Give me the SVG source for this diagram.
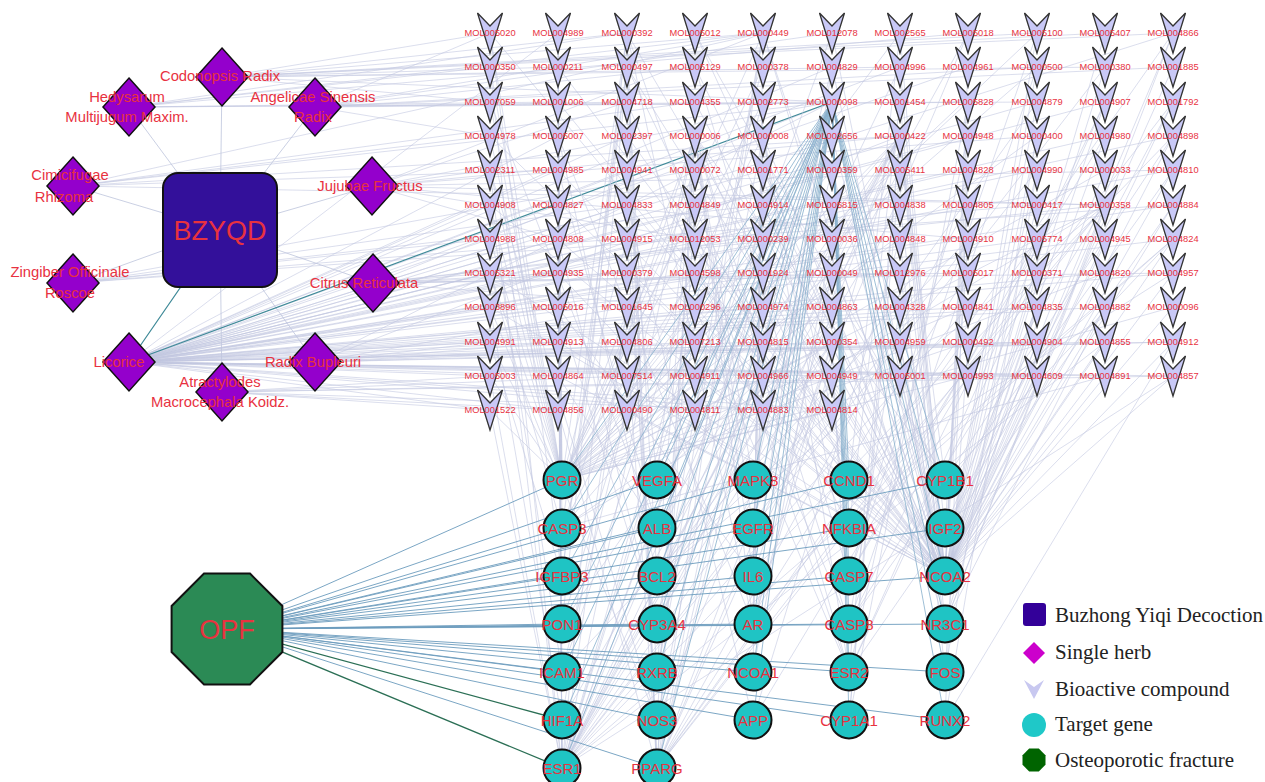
<svg xmlns="http://www.w3.org/2000/svg" xmlns:xlink="http://www.w3.org/1999/xlink" width="1265" height="782" viewBox="0 0 1265 782">
<defs>
<path id="v" d="M-12.5 -20L0 -7L12.5 -20L0 20Z"/>
<path id="d" d="M0 -29L26 0L0 29L-26 0Z"/>
<style>
.e{fill:none;stroke:#c3c8e0;stroke-width:0.7;opacity:0.85}
.eh{fill:none;stroke:#bcc4dc;stroke-width:0.8}
.eb{fill:none;stroke:#86aecb;stroke-width:0.8}
.et{fill:none;stroke:#3f8a98;stroke-width:1.2}
.eo{fill:none;stroke:#6c9cbd;stroke-width:0.9}
.eg{fill:none;stroke:#2b6f55;stroke-width:1.3}
.c use{fill:#c9c9f7;stroke:#333;stroke-width:1.3}
.c text{font-family:"Liberation Sans",Arial,sans-serif;font-size:9.3px;fill:#e8323f;text-anchor:middle}
.h use{fill:#9400cc;stroke:#111;stroke-width:1.5}
.h text{font-family:"Liberation Sans",Arial,sans-serif;font-size:14.8px;fill:#e8323f;text-anchor:middle}
.g circle{fill:#1fc4c4;stroke:#111;stroke-width:2}
.g text{font-family:"Liberation Sans",Arial,sans-serif;font-size:15px;fill:#e8323f;text-anchor:middle}
.big{font-family:"Liberation Sans",Arial,sans-serif;font-size:27px;fill:#e8323f;text-anchor:middle}
.lg{font-family:"Liberation Serif","Times New Roman",serif;font-size:21px;fill:#222}
</style>
</defs>
<rect width="1265" height="782" fill="#ffffff"/>
<g id="connectors">
<path class="eh" d="M220 230L222 77M220 230L129 107M220 230L315 107M220 230L73 186M220 230L372 186M220 230L73 283M220 230L373 283M220 230L315 362M220 230L222 392"/>
<path class="e" d="M222 77L490 33M222 77L627 33M222 77L763 33M222 77L1037 33M222 77L1105 33M222 77L558 67M222 77L900 67M222 77L1105 67M222 77L832 102M222 77L490 102M222 77L1173 33
M129 107L490 67M129 107L627 33M129 107L1037 102M129 107L763 33M129 107L558 102M129 107L832 102M129 107L968 33
M315 107L490 33M315 107L695 67M315 107L763 33M315 107L832 33M315 107L1037 67M315 107L1173 67M315 107L968 102M315 107L627 102M315 107L490 136
M73 186L490 136M73 186L558 170M73 186L832 102M73 186L900 136M73 186L695 102M73 186L1105 205M73 186L763 33
M372 186L490 170M372 186L627 102M372 186L832 102M372 186L900 136M372 186L1037 136M372 186L763 33M372 186L1105 205M372 186L1173 170M372 186L558 239M372 186L695 239M372 186L968 239
M73 283L490 239M73 283L627 205M73 283L763 205M73 283L1037 205M73 283L1173 205M73 283L695 170
M373 283L490 273M373 283L558 273M373 283L627 273M373 283L695 307M373 283L832 102M373 283L1105 205M373 283L968 273M373 283L1173 273M373 283L763 239M373 283L900 273
M315 362L490 342M315 362L558 342M315 362L832 342M315 362L627 307M315 362L900 136M315 362L1037 342M315 362L1173 342M315 362L832 102M315 362L695 342
M222 392L490 376M222 392L627 376M222 392L763 410M222 392L558 410M222 392L1037 376M222 392L1173 376M222 392L490 410
M129 362L490 205M129 362L490 239M129 362L490 273M129 362L490 307M129 362L490 342M129 362L490 376M129 362L558 33M129 362L558 136M129 362L558 170M129 362L558 205M129 362L558 239M129 362L558 273M129 362L558 307M129 362L558 342M129 362L558 376M129 362L558 410M129 362L627 136M129 362L627 170M129 362L627 205M129 362L627 239M129 362L627 342M129 362L695 273M129 362L695 376M129 362L695 410M129 362L763 205M129 362L763 307M129 362L763 342M129 362L763 376M129 362L763 410M129 362L832 67M129 362L832 307M129 362L832 376M129 362L832 410M129 362L900 67M129 362L900 205M129 362L900 239M129 362L900 342M129 362L968 67M129 362L968 136M129 362L968 170M129 362L968 205M129 362L968 239M129 362L968 307M129 362L968 376M129 362L1037 102M129 362L1037 170M129 362L1037 307M129 362L1037 342M129 362L1037 376M129 362L1105 102M129 362L1105 136M129 362L1105 239M129 362L1105 273M129 362L1105 307M129 362L1105 342M129 362L1105 376M129 362L1173 33M129 362L1173 136M129 362L1173 170M129 362L1173 205M129 362L1173 239M129 362L1173 273M129 362L1173 342M129 362L1173 376M129 362L490 410M129 362L763 170M129 362L900 307M129 362L1037 239"/>
<path class="et" d="M220 230L129 362M129 362L832 102"/>
<path class="e" d="M490 33L945 576M627 33L945 576M695 33L945 576M763 33L945 576M832 33L945 576M900 33L945 576M1037 33L945 576M1105 33L945 576M1173 33L945 576M558 67L945 576M627 67L945 576M695 67L945 576M832 67L945 576M900 67L945 576M968 67L945 576M1037 67L945 576M1105 67L945 576M1173 67L945 576M558 102L945 576M695 102L945 576M900 102L945 576M968 102L945 576M1037 102L945 576M1105 102L945 576M1173 102L945 576M490 136L945 576M627 136L945 576M695 136L945 576M763 136L945 576M832 136L945 576M900 136L945 576M968 136L945 576M1037 136L945 576M1105 136L945 576M1173 136L945 576M558 170L945 576M763 170L945 576M832 170L945 576M968 170L945 576M1037 170L945 576M1105 170L945 576M1173 170L945 576M490 205L945 576M627 205L945 576M763 205L945 576M900 205L945 576M1037 205L945 576M1105 205L945 576M1173 205L945 576M558 239L945 576M695 239L945 576M832 239L945 576M968 239L945 576M1037 239L945 576M1105 239L945 576M1173 239L945 576M490 273L945 576M627 273L945 576M763 273L945 576M900 273L945 576M1037 273L945 576M1105 273L945 576M1173 273L945 576M490 307L945 576M695 307L945 576M832 307L945 576M900 307L945 576M1037 307L945 576M1105 307L945 576M1173 307L945 576M558 342L945 576M763 342L945 576M900 342L945 576M1037 342L945 576M1105 342L945 576M1173 342L945 576M558 376L945 576M695 376L945 576M900 376L945 576M1037 376L945 576M1105 376L945 576M1173 376L945 576M627 410L945 576M763 410L945 576
M490 33L562 480M558 33L562 480M627 33L562 480M763 33L562 480M900 33L562 480M1037 33L562 480M490 67L562 480M558 67L562 480M763 67L562 480M1037 67L562 480M490 102L562 480M763 102L562 480M968 102L562 480M490 136L562 480M695 136L562 480M832 136L562 480M900 136L562 480M1037 136L562 480M490 170L562 480M695 170L562 480M832 170L562 480M1105 170L562 480M490 205L562 480M695 205L562 480M832 205L562 480M1105 205L562 480M490 239L562 480M627 239L562 480M763 239L562 480M900 239L562 480M490 273L562 480M695 273L562 480M832 273L562 480M1105 273L562 480M558 307L562 480M832 307L562 480M968 307L562 480M1173 307L562 480M490 342L562 480M832 342L562 480M968 342L562 480M490 376L562 480M627 376L562 480M968 376L562 480M490 410L562 480M832 410L562 480
M558 33L562 768M832 33L562 768M968 33L562 768M490 67L562 768M627 67L562 768M763 67L562 768M900 67L562 768M1105 67L562 768M558 102L562 768M763 102L562 768M1037 102L562 768M558 136L562 768M695 136L562 768M832 136L562 768M900 136L562 768M1173 136L562 768M490 170L562 768M900 170L562 768M1037 170L562 768M558 205L562 768M900 205L562 768M558 239L562 768M832 239L562 768M1173 239L562 768M558 273L562 768M763 273L562 768M627 307L562 768M968 307L562 768M695 342L562 768M832 342L562 768M1105 342L562 768M490 376L562 768M763 376L562 768M1173 376L562 768M490 410L562 768M695 410L562 768
M627 33L657 768M763 33L657 768M968 33L657 768M1173 33L657 768M627 67L657 768M832 67L657 768M627 102L657 768M1173 102L657 768M695 136L657 768M900 136L657 768M627 170L657 768M695 205L657 768M968 205L657 768M1105 205L657 768M763 239L657 768M1037 239L657 768M968 273L657 768M763 307L657 768M627 342L657 768M832 376L657 768M558 410L657 768
M627 33L753 624M763 33L753 624M695 136L753 624M900 136L753 624M832 273L753 624M832 342L753 624M558 136L753 624M1105 205L753 624
M695 136L562 528M695 136L657 576M695 136L753 576M695 136L657 480M695 136L753 480M695 136L753 528M695 136L849 480M695 136L849 624M695 136L849 672M695 136L657 720M695 136L945 480M695 136L562 672
M900 136L562 528M900 136L657 576M900 136L657 624M900 136L849 720M900 136L945 480M900 136L945 624M900 136L849 672M900 136L562 720M900 136L657 720M900 136L657 528M900 136L945 528M900 136L562 624
M763 136L562 528M763 136L753 576M763 136L849 480M763 136L753 672M763 136L849 672M763 136L849 576M763 136L657 672
M1105 205L562 528M1105 205L657 576M1105 205L849 624M1105 205L945 624
M832 342L562 528M832 342L657 576M832 342L753 576M832 342L849 672
M627 67L562 528M627 67L657 576M627 67L849 528M627 67L562 576
M627 33L562 576M627 33L849 672M627 33L562 624
M763 33L945 624M763 33L657 672M763 33L657 624
M558 170L657 528M558 170L562 672M900 239L753 720M900 239L945 672M968 170L849 576M968 170L945 720M1037 307L945 528M1037 307L945 624M1173 239L945 480M1173 239L849 528M490 307L562 720M490 307L657 720M695 273L849 480M695 273L562 672M763 376L753 528M763 376L657 480M558 307L657 624M558 307L753 576M1105 102L849 672M1105 102L849 624
M490 33L562 576M558 67L562 528M695 33L945 480M900 33L849 480M1037 33L849 576M1173 33L945 624M490 102L657 528M627 102L849 624M763 102L753 576M968 102L849 720M1173 102L945 528M558 136L657 576M968 136L849 672M1037 136L945 672M1173 136L945 480M627 170L657 480M832 170L753 480M1037 170L945 720M1173 170L849 624M490 205L562 672M763 205L657 720M968 205L945 528M627 239L657 672M832 239L753 672M1037 239L849 576M490 273L562 528M763 273L657 576M1037 273L849 672M1173 273L849 480M627 307L562 720M900 307L849 624M1105 307L945 624M490 342L562 576M763 342L753 624M968 342L945 672M1173 342L945 720M558 376L657 528M832 376L849 576M1037 376L945 528M627 410L562 624M763 410L753 528M832 410L657 576M695 67L849 576M900 102L849 528M1105 136L753 720M558 239L657 624M900 170L849 720M968 239L562 672M695 307L849 672M1105 376L562 528M490 170L657 720M832 67L753 576M1037 67L849 624M763 170L945 480M900 342L945 624M558 273L753 480M695 170L657 672M968 376L849 576M1173 205L849 672M627 205L753 720"/>
<path class="eb" d="M832 102L562 480M832 102L562 528M832 102L562 576M832 102L562 624M832 102L562 672M832 102L562 720M832 102L562 768M832 102L657 480M832 102L657 528M832 102L657 576M832 102L657 624M832 102L657 672M832 102L657 720M832 102L657 768M832 102L753 480M832 102L753 528M832 102L753 576M832 102L753 624M832 102L753 672M832 102L753 720M832 102L849 480M832 102L849 528M832 102L849 576M832 102L849 624M832 102L849 672M832 102L849 720M832 102L945 480M832 102L945 528M832 102L945 576M832 102L945 624M832 102L945 672M832 102L945 720"/>
<path class="eo" d="M227 629L562 480M227 629L562 528M227 629L562 576M227 629L562 624M227 629L562 672M227 629L657 480M227 629L657 528M227 629L657 576M227 629L657 624M227 629L657 672M227 629L657 720M227 629L657 768M227 629L753 480M227 629L753 528M227 629L753 576M227 629L753 624M227 629L753 672M227 629L753 720M227 629L849 480M227 629L849 528M227 629L849 576M227 629L849 624M227 629L849 672M227 629L849 720M227 629L945 480M227 629L945 528M227 629L945 576M227 629L945 624M227 629L945 672M227 629L945 720"/>
<path class="eg" d="M227 629L562 720M227 629L562 768"/>
</g>
<g id="compounds">
<g id="MOL005020" class="c"><use href="#v" x="490" y="33"/><text x="490" y="36">MOL005020</text></g>
<g id="MOL004989" class="c"><use href="#v" x="558" y="33"/><text x="558" y="36">MOL004989</text></g>
<g id="MOL000392" class="c"><use href="#v" x="627" y="33"/><text x="627" y="36">MOL000392</text></g>
<g id="MOL005012" class="c"><use href="#v" x="695" y="33"/><text x="695" y="36">MOL005012</text></g>
<g id="MOL000449" class="c"><use href="#v" x="763" y="33"/><text x="763" y="36">MOL000449</text></g>
<g id="MOL012078" class="c"><use href="#v" x="832" y="33"/><text x="832" y="36">MOL012078</text></g>
<g id="MOL002565" class="c"><use href="#v" x="900" y="33"/><text x="900" y="36">MOL002565</text></g>
<g id="MOL005018" class="c"><use href="#v" x="968" y="33"/><text x="968" y="36">MOL005018</text></g>
<g id="MOL005100" class="c"><use href="#v" x="1037" y="33"/><text x="1037" y="36">MOL005100</text></g>
<g id="MOL005407" class="c"><use href="#v" x="1105" y="33"/><text x="1105" y="36">MOL005407</text></g>
<g id="MOL004866" class="c"><use href="#v" x="1173" y="33"/><text x="1173" y="36">MOL004866</text></g>
<g id="MOL000350" class="c"><use href="#v" x="490" y="67"/><text x="490" y="70">MOL000350</text></g>
<g id="MOL000211" class="c"><use href="#v" x="558" y="67"/><text x="558" y="70">MOL000211</text></g>
<g id="MOL000497" class="c"><use href="#v" x="627" y="67"/><text x="627" y="70">MOL000497</text></g>
<g id="MOL005129" class="c"><use href="#v" x="695" y="67"/><text x="695" y="70">MOL005129</text></g>
<g id="MOL000378" class="c"><use href="#v" x="763" y="67"/><text x="763" y="70">MOL000378</text></g>
<g id="MOL004829" class="c"><use href="#v" x="832" y="67"/><text x="832" y="70">MOL004829</text></g>
<g id="MOL004996" class="c"><use href="#v" x="900" y="67"/><text x="900" y="70">MOL004996</text></g>
<g id="MOL004961" class="c"><use href="#v" x="968" y="67"/><text x="968" y="70">MOL004961</text></g>
<g id="MOL000500" class="c"><use href="#v" x="1037" y="67"/><text x="1037" y="70">MOL000500</text></g>
<g id="MOL000380" class="c"><use href="#v" x="1105" y="67"/><text x="1105" y="70">MOL000380</text></g>
<g id="MOL001885" class="c"><use href="#v" x="1173" y="67"/><text x="1173" y="70">MOL001885</text></g>
<g id="MOL007059" class="c"><use href="#v" x="490" y="102"/><text x="490" y="105">MOL007059</text></g>
<g id="MOL001006" class="c"><use href="#v" x="558" y="102"/><text x="558" y="105">MOL001006</text></g>
<g id="MOL004718" class="c"><use href="#v" x="627" y="102"/><text x="627" y="105">MOL004718</text></g>
<g id="MOL004355" class="c"><use href="#v" x="695" y="102"/><text x="695" y="105">MOL004355</text></g>
<g id="MOL002773" class="c"><use href="#v" x="763" y="102"/><text x="763" y="105">MOL002773</text></g>
<g id="MOL000098" class="c"><use href="#v" x="832" y="102"/><text x="832" y="105">MOL000098</text></g>
<g id="MOL001454" class="c"><use href="#v" x="900" y="102"/><text x="900" y="105">MOL001454</text></g>
<g id="MOL005828" class="c"><use href="#v" x="968" y="102"/><text x="968" y="105">MOL005828</text></g>
<g id="MOL004879" class="c"><use href="#v" x="1037" y="102"/><text x="1037" y="105">MOL004879</text></g>
<g id="MOL004907" class="c"><use href="#v" x="1105" y="102"/><text x="1105" y="105">MOL004907</text></g>
<g id="MOL001792" class="c"><use href="#v" x="1173" y="102"/><text x="1173" y="105">MOL001792</text></g>
<g id="MOL004978" class="c"><use href="#v" x="490" y="136"/><text x="490" y="139">MOL004978</text></g>
<g id="MOL005007" class="c"><use href="#v" x="558" y="136"/><text x="558" y="139">MOL005007</text></g>
<g id="MOL002397" class="c"><use href="#v" x="627" y="136"/><text x="627" y="139">MOL002397</text></g>
<g id="MOL000006" class="c"><use href="#v" x="695" y="136"/><text x="695" y="139">MOL000006</text></g>
<g id="MOL000008" class="c"><use href="#v" x="763" y="136"/><text x="763" y="139">MOL000008</text></g>
<g id="MOL002656" class="c"><use href="#v" x="832" y="136"/><text x="832" y="139">MOL002656</text></g>
<g id="MOL000422" class="c"><use href="#v" x="900" y="136"/><text x="900" y="139">MOL000422</text></g>
<g id="MOL004948" class="c"><use href="#v" x="968" y="136"/><text x="968" y="139">MOL004948</text></g>
<g id="MOL000400" class="c"><use href="#v" x="1037" y="136"/><text x="1037" y="139">MOL000400</text></g>
<g id="MOL004980" class="c"><use href="#v" x="1105" y="136"/><text x="1105" y="139">MOL004980</text></g>
<g id="MOL004898" class="c"><use href="#v" x="1173" y="136"/><text x="1173" y="139">MOL004898</text></g>
<g id="MOL002311" class="c"><use href="#v" x="490" y="170"/><text x="490" y="173">MOL002311</text></g>
<g id="MOL004985" class="c"><use href="#v" x="558" y="170"/><text x="558" y="173">MOL004985</text></g>
<g id="MOL004941" class="c"><use href="#v" x="627" y="170"/><text x="627" y="173">MOL004941</text></g>
<g id="MOL000072" class="c"><use href="#v" x="695" y="170"/><text x="695" y="173">MOL000072</text></g>
<g id="MOL001771" class="c"><use href="#v" x="763" y="170"/><text x="763" y="173">MOL001771</text></g>
<g id="MOL000359" class="c"><use href="#v" x="832" y="170"/><text x="832" y="173">MOL000359</text></g>
<g id="MOL005411" class="c"><use href="#v" x="900" y="170"/><text x="900" y="173">MOL005411</text></g>
<g id="MOL004828" class="c"><use href="#v" x="968" y="170"/><text x="968" y="173">MOL004828</text></g>
<g id="MOL004990" class="c"><use href="#v" x="1037" y="170"/><text x="1037" y="173">MOL004990</text></g>
<g id="MOL000033" class="c"><use href="#v" x="1105" y="170"/><text x="1105" y="173">MOL000033</text></g>
<g id="MOL004810" class="c"><use href="#v" x="1173" y="170"/><text x="1173" y="173">MOL004810</text></g>
<g id="MOL004908" class="c"><use href="#v" x="490" y="205"/><text x="490" y="208">MOL004908</text></g>
<g id="MOL004827" class="c"><use href="#v" x="558" y="205"/><text x="558" y="208">MOL004827</text></g>
<g id="MOL004833" class="c"><use href="#v" x="627" y="205"/><text x="627" y="208">MOL004833</text></g>
<g id="MOL004849" class="c"><use href="#v" x="695" y="205"/><text x="695" y="208">MOL004849</text></g>
<g id="MOL004914" class="c"><use href="#v" x="763" y="205"/><text x="763" y="208">MOL004914</text></g>
<g id="MOL005815" class="c"><use href="#v" x="832" y="205"/><text x="832" y="208">MOL005815</text></g>
<g id="MOL004838" class="c"><use href="#v" x="900" y="205"/><text x="900" y="208">MOL004838</text></g>
<g id="MOL004805" class="c"><use href="#v" x="968" y="205"/><text x="968" y="208">MOL004805</text></g>
<g id="MOL000417" class="c"><use href="#v" x="1037" y="205"/><text x="1037" y="208">MOL000417</text></g>
<g id="MOL000358" class="c"><use href="#v" x="1105" y="205"/><text x="1105" y="208">MOL000358</text></g>
<g id="MOL004884" class="c"><use href="#v" x="1173" y="205"/><text x="1173" y="208">MOL004884</text></g>
<g id="MOL004988" class="c"><use href="#v" x="490" y="239"/><text x="490" y="242">MOL004988</text></g>
<g id="MOL004808" class="c"><use href="#v" x="558" y="239"/><text x="558" y="242">MOL004808</text></g>
<g id="MOL004915" class="c"><use href="#v" x="627" y="239"/><text x="627" y="242">MOL004915</text></g>
<g id="MOL012053" class="c"><use href="#v" x="695" y="239"/><text x="695" y="242">MOL012053</text></g>
<g id="MOL000239" class="c"><use href="#v" x="763" y="239"/><text x="763" y="242">MOL000239</text></g>
<g id="MOL000036" class="c"><use href="#v" x="832" y="239"/><text x="832" y="242">MOL000036</text></g>
<g id="MOL004848" class="c"><use href="#v" x="900" y="239"/><text x="900" y="242">MOL004848</text></g>
<g id="MOL004910" class="c"><use href="#v" x="968" y="239"/><text x="968" y="242">MOL004910</text></g>
<g id="MOL005774" class="c"><use href="#v" x="1037" y="239"/><text x="1037" y="242">MOL005774</text></g>
<g id="MOL004945" class="c"><use href="#v" x="1105" y="239"/><text x="1105" y="242">MOL004945</text></g>
<g id="MOL004824" class="c"><use href="#v" x="1173" y="239"/><text x="1173" y="242">MOL004824</text></g>
<g id="MOL005321" class="c"><use href="#v" x="490" y="273"/><text x="490" y="276">MOL005321</text></g>
<g id="MOL004935" class="c"><use href="#v" x="558" y="273"/><text x="558" y="276">MOL004935</text></g>
<g id="MOL000379" class="c"><use href="#v" x="627" y="273"/><text x="627" y="276">MOL000379</text></g>
<g id="MOL004598" class="c"><use href="#v" x="695" y="273"/><text x="695" y="276">MOL004598</text></g>
<g id="MOL001924" class="c"><use href="#v" x="763" y="273"/><text x="763" y="276">MOL001924</text></g>
<g id="MOL000049" class="c"><use href="#v" x="832" y="273"/><text x="832" y="276">MOL000049</text></g>
<g id="MOL012976" class="c"><use href="#v" x="900" y="273"/><text x="900" y="276">MOL012976</text></g>
<g id="MOL005017" class="c"><use href="#v" x="968" y="273"/><text x="968" y="276">MOL005017</text></g>
<g id="MOL000371" class="c"><use href="#v" x="1037" y="273"/><text x="1037" y="276">MOL000371</text></g>
<g id="MOL004820" class="c"><use href="#v" x="1105" y="273"/><text x="1105" y="276">MOL004820</text></g>
<g id="MOL004957" class="c"><use href="#v" x="1173" y="273"/><text x="1173" y="276">MOL004957</text></g>
<g id="MOL003896" class="c"><use href="#v" x="490" y="307"/><text x="490" y="310">MOL003896</text></g>
<g id="MOL005016" class="c"><use href="#v" x="558" y="307"/><text x="558" y="310">MOL005016</text></g>
<g id="MOL001645" class="c"><use href="#v" x="627" y="307"/><text x="627" y="310">MOL001645</text></g>
<g id="MOL000296" class="c"><use href="#v" x="695" y="307"/><text x="695" y="310">MOL000296</text></g>
<g id="MOL004974" class="c"><use href="#v" x="763" y="307"/><text x="763" y="310">MOL004974</text></g>
<g id="MOL004863" class="c"><use href="#v" x="832" y="307"/><text x="832" y="310">MOL004863</text></g>
<g id="MOL004328" class="c"><use href="#v" x="900" y="307"/><text x="900" y="310">MOL004328</text></g>
<g id="MOL004841" class="c"><use href="#v" x="968" y="307"/><text x="968" y="310">MOL004841</text></g>
<g id="MOL004835" class="c"><use href="#v" x="1037" y="307"/><text x="1037" y="310">MOL004835</text></g>
<g id="MOL004882" class="c"><use href="#v" x="1105" y="307"/><text x="1105" y="310">MOL004882</text></g>
<g id="MOL000096" class="c"><use href="#v" x="1173" y="307"/><text x="1173" y="310">MOL000096</text></g>
<g id="MOL004991" class="c"><use href="#v" x="490" y="342"/><text x="490" y="345">MOL004991</text></g>
<g id="MOL004913" class="c"><use href="#v" x="558" y="342"/><text x="558" y="345">MOL004913</text></g>
<g id="MOL004806" class="c"><use href="#v" x="627" y="342"/><text x="627" y="345">MOL004806</text></g>
<g id="MOL007213" class="c"><use href="#v" x="695" y="342"/><text x="695" y="345">MOL007213</text></g>
<g id="MOL004815" class="c"><use href="#v" x="763" y="342"/><text x="763" y="345">MOL004815</text></g>
<g id="MOL000354" class="c"><use href="#v" x="832" y="342"/><text x="832" y="345">MOL000354</text></g>
<g id="MOL004959" class="c"><use href="#v" x="900" y="342"/><text x="900" y="345">MOL004959</text></g>
<g id="MOL000492" class="c"><use href="#v" x="968" y="342"/><text x="968" y="345">MOL000492</text></g>
<g id="MOL004904" class="c"><use href="#v" x="1037" y="342"/><text x="1037" y="345">MOL004904</text></g>
<g id="MOL004855" class="c"><use href="#v" x="1105" y="342"/><text x="1105" y="345">MOL004855</text></g>
<g id="MOL004912" class="c"><use href="#v" x="1173" y="342"/><text x="1173" y="345">MOL004912</text></g>
<g id="MOL005003" class="c"><use href="#v" x="490" y="376"/><text x="490" y="379">MOL005003</text></g>
<g id="MOL004864" class="c"><use href="#v" x="558" y="376"/><text x="558" y="379">MOL004864</text></g>
<g id="MOL007514" class="c"><use href="#v" x="627" y="376"/><text x="627" y="379">MOL007514</text></g>
<g id="MOL004911" class="c"><use href="#v" x="695" y="376"/><text x="695" y="379">MOL004911</text></g>
<g id="MOL004966" class="c"><use href="#v" x="763" y="376"/><text x="763" y="379">MOL004966</text></g>
<g id="MOL004949" class="c"><use href="#v" x="832" y="376"/><text x="832" y="379">MOL004949</text></g>
<g id="MOL005001" class="c"><use href="#v" x="900" y="376"/><text x="900" y="379">MOL005001</text></g>
<g id="MOL004993" class="c"><use href="#v" x="968" y="376"/><text x="968" y="379">MOL004993</text></g>
<g id="MOL004609" class="c"><use href="#v" x="1037" y="376"/><text x="1037" y="379">MOL004609</text></g>
<g id="MOL004891" class="c"><use href="#v" x="1105" y="376"/><text x="1105" y="379">MOL004891</text></g>
<g id="MOL004857" class="c"><use href="#v" x="1173" y="376"/><text x="1173" y="379">MOL004857</text></g>
<g id="MOL001522" class="c"><use href="#v" x="490" y="410"/><text x="490" y="413">MOL001522</text></g>
<g id="MOL004856" class="c"><use href="#v" x="558" y="410"/><text x="558" y="413">MOL004856</text></g>
<g id="MOL000490" class="c"><use href="#v" x="627" y="410"/><text x="627" y="413">MOL000490</text></g>
<g id="MOL004811" class="c"><use href="#v" x="695" y="410"/><text x="695" y="413">MOL004811</text></g>
<g id="MOL004883" class="c"><use href="#v" x="763" y="410"/><text x="763" y="413">MOL004883</text></g>
<g id="MOL004814" class="c"><use href="#v" x="832" y="410"/><text x="832" y="413">MOL004814</text></g>
</g>
<g id="herbs">
<g id="codonopsis" class="h"><use href="#d" x="222" y="77"/><text x="220" y="81">Codonopsis Radix</text></g>
<g id="hedysarum" class="h"><use href="#d" x="129" y="107"/><text x="127" y="102">Hedysarum</text><text x="127" y="122">Multijugum Maxim.</text></g>
<g id="angelicae" class="h"><use href="#d" x="315" y="107"/><text x="313" y="102">Angelicae Sinensis</text><text x="313" y="122">Radix</text></g>
<g id="cimicifugae" class="h"><use href="#d" x="73" y="186"/><text x="70" y="180">Cimicifugae</text><text x="64" y="202">Rhizoma</text></g>
<g id="jujubae" class="h"><use href="#d" x="372" y="186"/><text x="370" y="191">Jujubae Fructus</text></g>
<g id="zingiber" class="h"><use href="#d" x="73" y="283"/><text x="70" y="277">Zingiber Officinale</text><text x="70" y="298">Roscoe</text></g>
<g id="citrus" class="h"><use href="#d" x="373" y="283"/><text x="364" y="288">Citrus Reticulata</text></g>
<g id="licorice" class="h"><use href="#d" x="129" y="362"/><text x="119" y="367">Licorice</text></g>
<g id="bupleuri" class="h"><use href="#d" x="315" y="362"/><text x="313" y="367">Radix Bupleuri</text></g>
<g id="atractylodes" class="h"><use href="#d" x="222" y="392"/><text x="220" y="387">Atractylodes</text><text x="220" y="407">Macrocephala Koidz.</text></g>
</g>
<g id="BZYQD"><rect x="163" y="173" width="114" height="114" rx="15" fill="#33109a" stroke="#111" stroke-width="2"/><text class="big" x="220" y="240">BZYQD</text></g>
<g id="genes">
<g id="PGR" class="g"><circle cx="562" cy="480" r="18.5"/><text x="562" y="485.5">PGR</text></g>
<g id="CASP3" class="g"><circle cx="562" cy="528" r="18.5"/><text x="562" y="533.5">CASP3</text></g>
<g id="IGFBP3" class="g"><circle cx="562" cy="576" r="18.5"/><text x="562" y="581.5">IGFBP3</text></g>
<g id="PON1" class="g"><circle cx="562" cy="624" r="18.5"/><text x="562" y="629.5">PON1</text></g>
<g id="ICAM1" class="g"><circle cx="562" cy="672" r="18.5"/><text x="562" y="677.5">ICAM1</text></g>
<g id="HIF1A" class="g"><circle cx="562" cy="720" r="18.5"/><text x="562" y="725.5">HIF1A</text></g>
<g id="ESR1" class="g"><circle cx="562" cy="768" r="18.5"/><text x="562" y="773.5">ESR1</text></g>
<g id="VEGFA" class="g"><circle cx="657" cy="480" r="18.5"/><text x="657" y="485.5">VEGFA</text></g>
<g id="ALB" class="g"><circle cx="657" cy="528" r="18.5"/><text x="657" y="533.5">ALB</text></g>
<g id="BCL2" class="g"><circle cx="657" cy="576" r="18.5"/><text x="657" y="581.5">BCL2</text></g>
<g id="CYP3A4" class="g"><circle cx="657" cy="624" r="18.5"/><text x="657" y="629.5">CYP3A4</text></g>
<g id="RXRB" class="g"><circle cx="657" cy="672" r="18.5"/><text x="657" y="677.5">RXRB</text></g>
<g id="NOS3" class="g"><circle cx="657" cy="720" r="18.5"/><text x="657" y="725.5">NOS3</text></g>
<g id="PPARG" class="g"><circle cx="657" cy="768" r="18.5"/><text x="657" y="773.5">PPARG</text></g>
<g id="MAPK8" class="g"><circle cx="753" cy="480" r="18.5"/><text x="753" y="485.5">MAPK8</text></g>
<g id="EGFR" class="g"><circle cx="753" cy="528" r="18.5"/><text x="753" y="533.5">EGFR</text></g>
<g id="IL6" class="g"><circle cx="753" cy="576" r="18.5"/><text x="753" y="581.5">IL6</text></g>
<g id="AR" class="g"><circle cx="753" cy="624" r="18.5"/><text x="753" y="629.5">AR</text></g>
<g id="NCOA1" class="g"><circle cx="753" cy="672" r="18.5"/><text x="753" y="677.5">NCOA1</text></g>
<g id="APP" class="g"><circle cx="753" cy="720" r="18.5"/><text x="753" y="725.5">APP</text></g>
<g id="CCND1" class="g"><circle cx="849" cy="480" r="18.5"/><text x="849" y="485.5">CCND1</text></g>
<g id="NFKBIA" class="g"><circle cx="849" cy="528" r="18.5"/><text x="849" y="533.5">NFKBIA</text></g>
<g id="CASP7" class="g"><circle cx="849" cy="576" r="18.5"/><text x="849" y="581.5">CASP7</text></g>
<g id="CASP8" class="g"><circle cx="849" cy="624" r="18.5"/><text x="849" y="629.5">CASP8</text></g>
<g id="ESR2" class="g"><circle cx="849" cy="672" r="18.5"/><text x="849" y="677.5">ESR2</text></g>
<g id="CYP1A1" class="g"><circle cx="849" cy="720" r="18.5"/><text x="849" y="725.5">CYP1A1</text></g>
<g id="CYP1B1" class="g"><circle cx="945" cy="480" r="18.5"/><text x="945" y="485.5">CYP1B1</text></g>
<g id="IGF2" class="g"><circle cx="945" cy="528" r="18.5"/><text x="945" y="533.5">IGF2</text></g>
<g id="NCOA2" class="g"><circle cx="945" cy="576" r="18.5"/><text x="945" y="581.5">NCOA2</text></g>
<g id="NR3C1" class="g"><circle cx="945" cy="624" r="18.5"/><text x="945" y="629.5">NR3C1</text></g>
<g id="FOS" class="g"><circle cx="945" cy="672" r="18.5"/><text x="945" y="677.5">FOS</text></g>
<g id="RUNX2" class="g"><circle cx="945" cy="720" r="18.5"/><text x="945" y="725.5">RUNX2</text></g>
</g>
<g id="OPF"><polygon points="282.4,652 250,684.4 204,684.4 171.6,652 171.6,606 204,573.6 250,573.6 282.4,606" fill="#2b8a55" stroke="#111" stroke-width="2"/><text class="big" x="227" y="639">OPF</text></g>
<g id="legend">
<rect x="1023" y="603" width="23" height="23" rx="3" fill="#330099"/>
<text class="lg" x="1055" y="622">Buzhong Yiqi Decoction</text>
<polygon points="1034,642 1045,653 1034,664 1023,653" fill="#cc00cc"/>
<text class="lg" x="1055" y="659">Single herb</text>
<path d="M1024 680L1034 687L1044 680L1034 699Z" fill="#c8c8f0"/>
<text class="lg" x="1055" y="696">Bioactive compound</text>
<circle cx="1034" cy="725" r="12" fill="#1fc8c8"/>
<text class="lg" x="1055" y="731">Target gene</text>
<polygon points="1045.5,764.8 1038.8,771.5 1029.2,771.5 1022.5,764.8 1022.5,755.2 1029.2,748.5 1038.8,748.5 1045.5,755.2" fill="#006400"/>
<text class="lg" x="1055" y="767">Osteoporotic fracture</text>
</g>
</svg>
